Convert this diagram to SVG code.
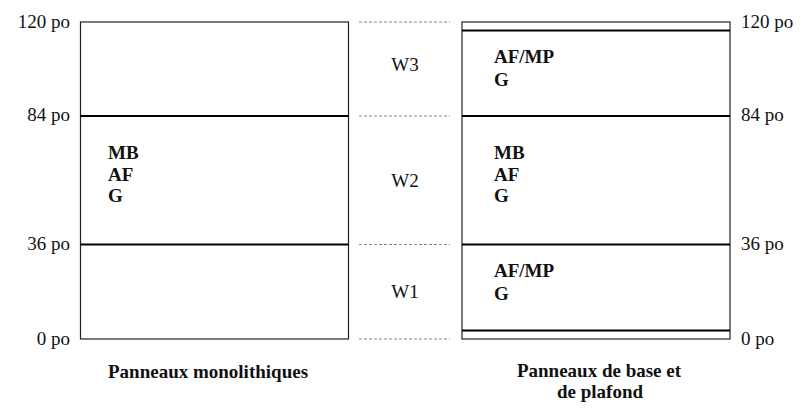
<svg xmlns="http://www.w3.org/2000/svg" width="810" height="408" viewBox="0 0 810 408" font-family="'Liberation Serif', 'DejaVu Serif', serif">
<style>
.box{fill:#fff;stroke:#222;stroke-width:1.2}
.sep{stroke:#000;stroke-width:2}
.dash{stroke:#888;stroke-width:1;stroke-dasharray:3 2}
text{font-family:'Liberation Serif','DejaVu Serif',serif;font-size:19px;fill:#111}
.b{font-weight:bold}
.r{text-anchor:end}
.c{text-anchor:middle}
</style>
<g id="left-panel">
<rect class="box" x="80.5" y="22" width="268" height="317"/>
<line class="sep" x1="80.5" y1="116" x2="348.5" y2="116"/>
<line class="sep" x1="80.5" y1="244.5" x2="348.5" y2="244.5"/>
<text class="b" x="108" y="159">MB</text>
<text class="b" x="108" y="181">AF</text>
<text class="b" x="108" y="202">G</text>
<text class="b c" x="208" y="378">Panneaux monolithiques</text>
</g>
<g id="right-panel">
<rect class="box" x="462" y="22" width="268" height="317"/>
<line class="sep" x1="462" y1="30.5" x2="730" y2="30.5"/>
<line class="sep" x1="462" y1="116" x2="730" y2="116"/>
<line class="sep" x1="462" y1="244.5" x2="730" y2="244.5"/>
<line class="sep" x1="462" y1="330.5" x2="730" y2="330.5"/>
<text class="b" x="494" y="63">AF/MP</text>
<text class="b" x="494" y="86">G</text>
<text class="b" x="494" y="159">MB</text>
<text class="b" x="494" y="181">AF</text>
<text class="b" x="494" y="202">G</text>
<text class="b" x="494" y="277">AF/MP</text>
<text class="b" x="494" y="300">G</text>
<text class="b c" x="599" y="377">Panneaux de base et</text>
<text class="b c" x="600" y="398">de plafond</text>
</g>
<g id="scale-left">
<text class="r" x="70" y="28">120 po</text>
<text class="r" x="70" y="121">84 po</text>
<text class="r" x="70" y="250">36 po</text>
<text class="r" x="70" y="345">0 po</text>
</g>
<g id="scale-right">
<text x="741" y="28">120 po</text>
<text x="741" y="121">84 po</text>
<text x="741" y="250">36 po</text>
<text x="741" y="345">0 po</text>
</g>
<g id="zones">
<text class="c" x="405" y="71">W3</text>
<text class="c" x="405" y="187">W2</text>
<text class="c" x="405" y="298">W1</text>
</g>
<g id="connectors">
<line class="dash" x1="359" y1="22" x2="450" y2="22"/>
<line class="dash" x1="359" y1="116" x2="450" y2="116"/>
<line class="dash" x1="359" y1="244.5" x2="450" y2="244.5"/>
<line class="dash" x1="359" y1="339" x2="450" y2="339"/>
</g>
</svg>
